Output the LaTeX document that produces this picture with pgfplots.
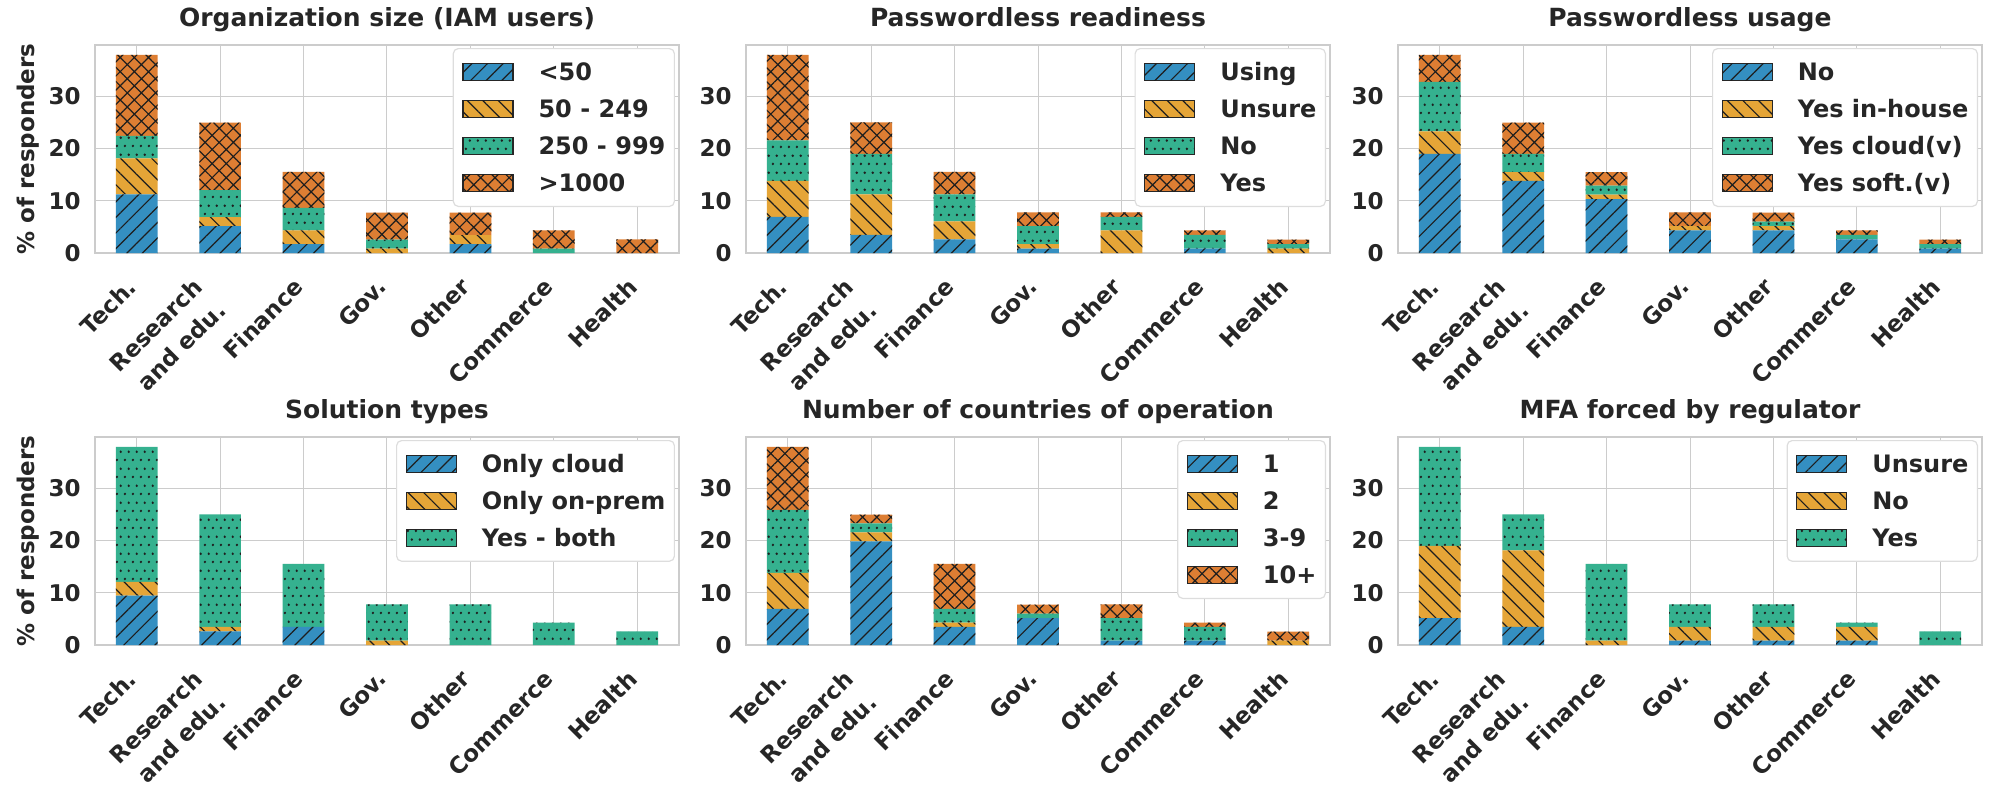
\documentclass[border=0pt]{standalone}
\usepackage{fontspec}
\setmainfont{DejaVu Sans}
\usepackage{pgfplots}
\usepackage{pgfplotstable}
\pgfplotsset{compat=1.18}
\usetikzlibrary{patterns.meta}

\definecolor{cbBlue}{HTML}{348FC1}
\definecolor{cbOrange}{HTML}{E5A537}
\definecolor{cbGreen}{HTML}{35B18F}
\definecolor{cbRed}{HTML}{DD7E33}
\definecolor{txt}{HTML}{262626}
\definecolor{gridc}{HTML}{CCCCCC}
\definecolor{legc}{HTML}{DDDDDD}
\definecolor{hatchc}{HTML}{1E1E1E}

\tikzdeclarepattern{
  name=sdots,
  type=uncolored,
  bounding box={(0pt,0pt) and (4.15pt,8.3pt)},
  tile size={(4.15pt,8.3pt)},
  code={
    \fill (1.04pt,2.07pt) circle [radius=0.7pt];
    \fill (3.11pt,6.22pt) circle [radius=0.7pt];
  }
}

\newcommand\tickfont{\fontsize{11.5}{16.5}\selectfont\bfseries}
\newcommand\legfont{\fontsize{12}{14}\selectfont\bfseries}
\newcommand\titfont{\fontsize{12.5}{15}\selectfont\bfseries}

% percentages of responders
\pgfplotstableread{
x a b c d
0 11.21 6.90 4.31 15.52
1 5.17 1.72 5.17 12.93
2 1.72 2.59 4.31 6.90
3 0 0.86 1.72 5.17
4 1.72 1.72 0 4.31
5 0 0 0.86 3.45
6 0 0 0 2.59
}\orgsize
\pgfplotstableread{
x a b c d
0 6.90 6.90 7.76 16.38
1 3.45 7.76 7.76 6.03
2 2.59 3.45 5.17 4.31
3 0.86 0.86 3.45 2.59
4 0 4.31 2.59 0.86
5 0.86 0 2.59 0.86
6 0 0.86 0.86 0.86
}\readiness
\pgfplotstableread{
x a b c d
0 18.97 4.31 9.48 5.17
1 13.79 1.72 3.45 6.03
2 10.34 0.86 1.72 2.59
3 4.31 0.86 0 2.59
4 4.31 0.86 0.86 1.72
5 2.59 0 0.86 0.86
6 0.86 0 0.86 0.86
}\usage
\pgfplotstableread{
x a b c
0 9.48 2.59 25.86
1 2.59 0.86 21.55
2 3.45 0 12.07
3 0 0.86 6.90
4 0 0 7.76
5 0 0 4.31
6 0 0 2.59
}\soltypes
\pgfplotstableread{
x a b c d
0 6.90 6.90 12.07 12.07
1 19.83 1.72 1.72 1.72
2 3.45 0.86 2.59 8.62
3 5.17 0 0.86 1.72
4 0.86 0 4.31 2.59
5 0.86 0 2.59 0.86
6 0 0.86 0 1.72
}\countries
\pgfplotstableread{
x a b c
0 5.17 13.79 18.97
1 3.45 14.66 6.90
2 0 0.86 14.66
3 0.86 2.59 4.31
4 0.86 2.59 4.31
5 0.86 2.59 0.86
6 0 0 2.59
}\mfa

\pgfplotsset{
 s1/.style={fill=cbBlue, draw=none, postaction={pattern={Lines[angle=45,distance=5.5pt,line width=0.6pt]},pattern color=hatchc}},
 s2/.style={fill=cbOrange, draw=none, postaction={pattern={Lines[angle=-45,distance=5.5pt,line width=0.6pt]},pattern color=hatchc}},
 s3/.style={fill=cbGreen, draw=none, postaction={pattern=sdots,pattern color=hatchc}},
 s4/.style={fill=cbRed, draw=none, postaction={pattern={Hatch[angle=45,distance=5pt,line width=0.6pt]},pattern color=hatchc}},
 sub/.style={
  scale only axis, width=292pt, height=104pt, anchor=south west,
  ybar stacked, bar width=0.5,
  xmin=-0.5, xmax=6.5, ymin=0, ymax=39.83,
  xtick={0,1,2,3,4,5,6},
  xticklabels={Tech.,,Finance,Gov.,Other,Commerce,Health},
  extra x ticks={0.79},
  extra x tick labels={Research\\and edu.},
  extra x tick style={grid=none},
  ytick={0,10,20,30},
  grid=major,
  major grid style={draw=gridc, line width=0.5pt},
  axis line style={draw=gridc, line width=0.9pt},
  major tick length=0pt,
  /pgf/number format/assume math mode=true,
  tick label style={font=\tickfont, text=txt},
  yticklabel style={anchor=east, inner sep=0pt, xshift=-7pt},
  xticklabel style={xshift=-5.5pt, yshift=-11.5pt, rotate=45, anchor=north east, align=right, inner sep=0pt},
  title style={font=\titfont, text=txt, at={(0.5,1)}, anchor=base, yshift=3.5pt},
  legend cell align=left,
  legend style={at={(1,1)}, anchor=north east, xshift=-2pt, yshift=-1.5pt,
    draw=legc, line width=0.6pt, rounded corners=2.5pt, fill=white,
    font=\legfont, text=txt, inner xsep=4.5pt, inner ysep=7pt, row sep=9.5pt,
    nodes={inner sep=0pt, text height=8.5pt, text depth=0pt},
    /tikz/every odd column/.append style={column sep=12.5pt}},
  legend image code/.code={\draw[#1,sharp corners,draw=black!85,line width=0.6pt] (0pt,-4.25pt) rectangle (25pt,4.25pt);},
  ylabel style={font=\tickfont, text=txt, at={(axis description cs:-0.1147,0.5)}, anchor=center},
 }
}

\begin{document}
\begin{tikzpicture}
\path[use as bounding box] (0,0) rectangle (1000pt,400pt);

\begin{axis}[sub, at={(47.5pt,273.5pt)}, title={Organization size (IAM users)}, ylabel={\% of responders}]
\addplot[s1] table[x=x,y=a]{\orgsize};
\addplot[s2] table[x=x,y=b]{\orgsize};
\addplot[s3] table[x=x,y=c]{\orgsize};
\addplot[s4] table[x=x,y=d]{\orgsize};
\legend{<50,50 - 249,250 - 999,>1000}
\end{axis}

\begin{axis}[sub, at={(373pt,273.5pt)}, title={Passwordless readiness}]
\addplot[s1] table[x=x,y=a]{\readiness};
\addplot[s2] table[x=x,y=b]{\readiness};
\addplot[s3] table[x=x,y=c]{\readiness};
\addplot[s4] table[x=x,y=d]{\readiness};
\legend{Using,Unsure,No,Yes}
\end{axis}

\begin{axis}[sub, at={(699pt,273.5pt)}, title={Passwordless usage}]
\addplot[s1] table[x=x,y=a]{\usage};
\addplot[s2] table[x=x,y=b]{\usage};
\addplot[s3] table[x=x,y=c]{\usage};
\addplot[s4] table[x=x,y=d]{\usage};
\legend{No,Yes in-house,Yes cloud(v),Yes soft.(v)}
\end{axis}

\begin{axis}[sub, at={(47.5pt,77.5pt)}, title={Solution types}, ylabel={\% of responders}]
\addplot[s1] table[x=x,y=a]{\soltypes};
\addplot[s2] table[x=x,y=b]{\soltypes};
\addplot[s3] table[x=x,y=c]{\soltypes};
\legend{Only cloud,Only on-prem,Yes - both}
\end{axis}

\begin{axis}[sub, at={(373pt,77.5pt)}, title={Number of countries of operation}]
\addplot[s1] table[x=x,y=a]{\countries};
\addplot[s2] table[x=x,y=b]{\countries};
\addplot[s3] table[x=x,y=c]{\countries};
\addplot[s4] table[x=x,y=d]{\countries};
\legend{1,2,3-9,10+}
\end{axis}

\begin{axis}[sub, at={(699pt,77.5pt)}, title={MFA forced by regulator}]
\addplot[s1] table[x=x,y=a]{\mfa};
\addplot[s2] table[x=x,y=b]{\mfa};
\addplot[s3] table[x=x,y=c]{\mfa};
\legend{Unsure,No,Yes}
\end{axis}
\end{tikzpicture}
\end{document}
